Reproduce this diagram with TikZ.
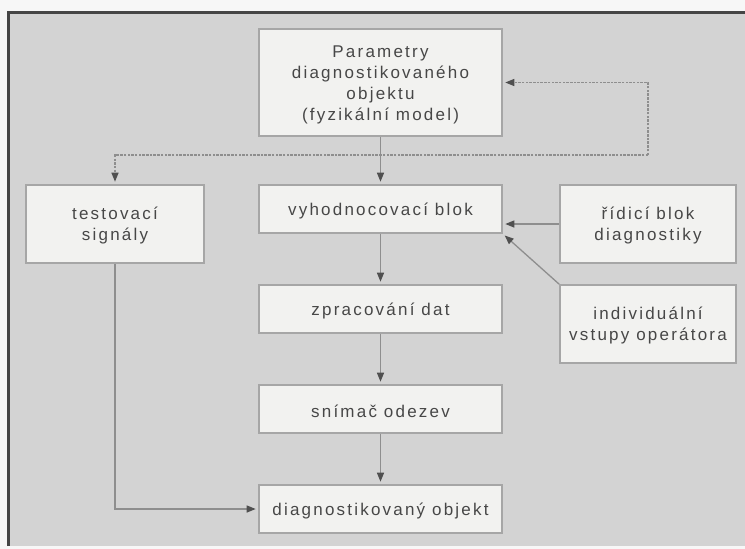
\documentclass[tikz,border=0pt]{standalone}
\usepackage{fontspec}
\setmainfont{Liberation Sans}[LetterSpace=13]
\usetikzlibrary{arrows.meta}
\definecolor{panel}{HTML}{D3D3D3}
\definecolor{boxfill}{HTML}{F2F2F0}
\definecolor{boxline}{HTML}{A6A6A6}
\definecolor{conn}{HTML}{8E8E8E}
\definecolor{tip}{HTML}{505050}
\definecolor{txt}{HTML}{474747}
\definecolor{frame}{HTML}{454545}
\begin{document}
\begin{tikzpicture}[x=1pt,y=-1pt,
  blk/.style={draw=boxline,line width=1.6pt,fill=boxfill,text=txt,align=center,
    font=\fontsize{17}{21}\selectfont,inner sep=0pt},
  lbl/.style={text=txt,align=center,font=\fontsize{17}{21}\selectfont,inner sep=0pt},
  conline/.style={draw=conn,line width=1.3pt},
  arr/.style={-{Triangle[length=9pt,width=7pt,fill=tip,color=tip]},shorten >=2.5pt},
  dsh/.style={conline,dash pattern=on 2.5pt off 1.2pt}
]
\useasboundingbox (0,0) rectangle (745,549);
\fill[white!94!gray] (0,0) rectangle (745,549);
\fill[panel] (8.5,12.5) rectangle (745,546);
\draw[frame,line width=3pt] (8.5,546) -- (8.5,12.5) -- (745,12.5);

\node[blk,minimum width=243pt,minimum height=107pt] (top) at (380.5,82.5) {};
\node[lbl] (topt) at (380.5,85) {Parametry\\diagnostikovaného\\objektu\\(fyzikální model)};
\node[blk,minimum width=178pt,minimum height=78pt] (test) at (115,224) {};
\node[lbl] (testt) at (115,226) {testovací\\signály};
\node[blk,minimum width=243pt,minimum height=48pt] (vyh) at (380.5,209) {};
\node[lbl] (vyht) at (380.5,211) {vyhodnocovací blok};
\node[blk,minimum width=176pt,minimum height=78pt] (rid) at (648,224) {};
\node[lbl] (ridt) at (648,226) {řídicí blok\\diagnostiky};
\node[blk,minimum width=243pt,minimum height=48pt] (zpr) at (380.5,309) {};
\node[lbl] (zprt) at (380.5,311) {zpracování dat};
\node[blk,minimum width=176pt,minimum height=78pt] (ind) at (648,324) {};
\node[lbl] (indt) at (648,326) {individuální\\vstupy operátora};
\node[blk,minimum width=243pt,minimum height=48pt] (sni) at (380.5,409) {};
\node[lbl] (snit) at (380.5,411) {snímač odezev};
\node[blk,minimum width=243pt,minimum height=48pt] (obj) at (380.5,509) {};
\node[lbl] (objt) at (380.5,511) {diagnostikovaný objekt};

\coordinate (lc) at (648,155);
\draw[dsh,arr] (lc) |- (top.east);
\draw[dsh,arr] (lc) -| (test.north);
\draw[conline,arr] (top.south) -- (vyh.north);
\draw[conline,arr] (vyh.south) -- (zpr.north);
\draw[conline,arr] (zpr.south) -- (sni.north);
\draw[conline,arr] (sni.south) -- (obj.north);
\draw[conline,arr] (test.south) |- (obj.west);
\draw[conline,arr] (rid.west) -- (rid.west -| vyh.east);
\draw[conline,arr] (ind.north west) -- (vyh.south east);
\end{tikzpicture}
\end{document}
